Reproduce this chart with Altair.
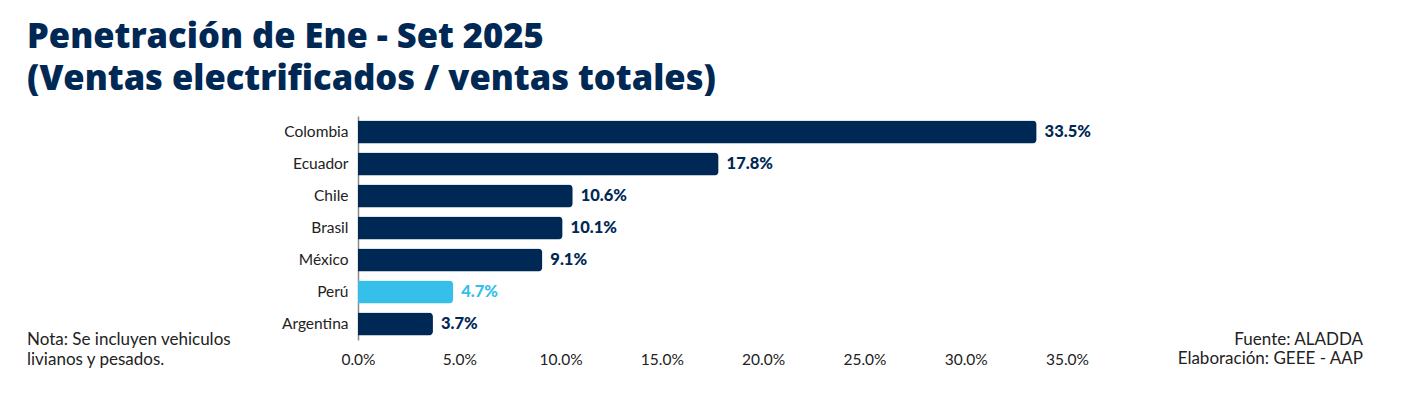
import altair as alt
import pandas as pd

countries = ["Colombia", "Ecuador", "Chile", "Brasil", "México", "Perú", "Argentina"]
values = [33.5, 17.8, 10.6, 10.1, 9.1, 4.7, 3.7]
highlight = ["no", "no", "no", "no", "no", "si", "no"]
x_ticks = [0, 5, 10, 15, 20, 25, 30, 35]
title_lines = ["Penetración de Ene - Set 2025", "(Ventas electrificados / ventas totales)"]
note_lines = ["Nota: Se incluyen vehiculos", "livianos y pesados."]
source_lines = ["Fuente: ALADDA", "Elaboración: GEEE - AAP"]

NAVY = "#002855"
LIGHT = "#36bfe9"
FONT = "Lato"

df = pd.DataFrame({"pais": countries, "valor": values, "hl": highlight})
df["etiqueta"] = [f"{v:.1f}%" for v in values]

color_scale = alt.Scale(domain=["no", "si"], range=[NAVY, LIGHT])

y_enc = alt.Y("pais:N", sort=countries, title=None,
              scale=alt.Scale(paddingInner=0.28, paddingOuter=0.14),
              axis=alt.Axis(labelFontSize=15.5, labelColor="#222222", labelFont=FONT,
                            labelPadding=10, ticks=False, domain=True,
                            domainColor="#8a8a8a", domainWidth=1.5))
x_enc = alt.X("valor:Q", title=None,
              scale=alt.Scale(domain=[0, 35], nice=False),
              axis=alt.Axis(values=x_ticks, labelExpr="format(datum.value, '.1f') + '%'",
                            labelFontSize=15.5, labelColor="#222222", labelFont=FONT,
                            labelFlush=False, labelPadding=12, ticks=False,
                            domain=False, grid=False))

bars = alt.Chart(df).mark_bar(cornerRadiusEnd=4).encode(
    x=x_enc, y=y_enc,
    color=alt.Color("hl:N", scale=color_scale, legend=None),
)

labels = alt.Chart(df).mark_text(align="left", baseline="middle", dx=8,
                                 fontSize=16.5, fontWeight=900, font=FONT).encode(
    x="valor:Q", y=alt.Y("pais:N", sort=countries),
    text="etiqueta:N",
    color=alt.Color("hl:N", scale=color_scale, legend=None),
)

one = pd.DataFrame({"t": [0]})

title = alt.Chart(one).mark_text(
    align="left", baseline="alphabetic", fontSize=34.5, fontWeight=800, font="Open Sans",
    color=NAVY, lineHeight=42, text=title_lines).encode(x=alt.value(-331), y=alt.value(-68))

note = alt.Chart(one).mark_text(
    align="left", baseline="middle", fontSize=17, font=FONT, color="#222222",
    lineHeight=20, text=note_lines).encode(x=alt.value(-331), y=alt.value(224))

source = alt.Chart(one).mark_text(
    align="right", baseline="middle", fontSize=17, font=FONT, color="#222222",
    lineHeight=19, text=source_lines).encode(x=alt.value(1005), y=alt.value(224))

chart = alt.layer(bars, labels, title, note, source).properties(
    width=709, height=224,
    autosize=alt.AutoSizeParams(type="none"),
    padding={"left": 350, "top": 108, "right": 327, "bottom": 58},
).configure_view(stroke=None)

chart.save("out.html", embed_options={"renderer": "svg", "actions": False})
